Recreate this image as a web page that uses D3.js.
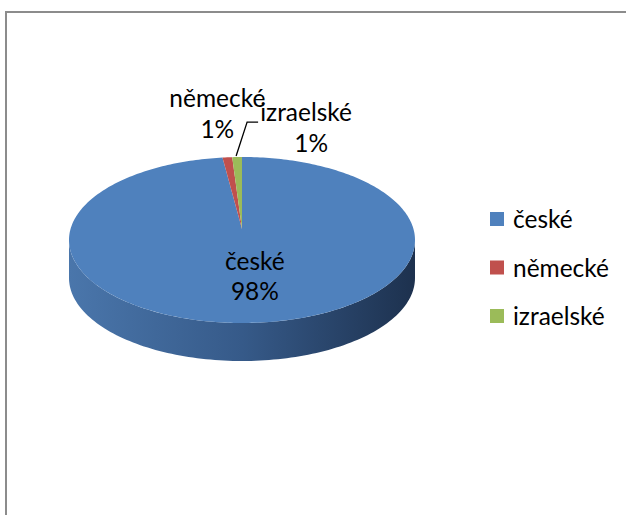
<!DOCTYPE html>
<html>
<head>
<meta charset="utf-8">
<script src="https://cdn.jsdelivr.net/npm/d3@7"></script>
<style>
  html, body { margin: 0; padding: 0; background: #fff; }
  svg { display: block; }
</style>
</head>
<body>
<svg id="chart" width="626" height="515"></svg>
<script>
// ---- data ----
const categories = ["české", "německé", "izraelské"];
const shares = [98.2, 0.9, 0.9];
const colors = ["#4f81bd", "#c0504d", "#9bbb59"];

const svg = d3.select("#chart");
const FONT = "Lato, 'Open Sans', sans-serif";

// fit font size so that the widest legend word matches the reference width
const probe = svg.append("text").attr("font-family", FONT).attr("font-size", 100).text(categories[1]);
const probeW = probe.node().getComputedTextLength();
probe.remove();
const fs = Math.min(28, Math.max(18, 96 / probeW * 100));

// frame
svg.append("rect").attr("x", 6).attr("y", 12).attr("width", 700).attr("height", 600)
  .attr("fill", "#fff").attr("stroke", "#8c8c8c").attr("stroke-width", 2);

// pie geometry
const cx = 242, cy = 240, rx = 173, ry = 83, depth = 38, apexDy = -11;
const pie = d3.pie().sort(null).value(d => d)(shares);
const pt = (a, k = 1, dy = 0) => [cx + rx * k * Math.sin(a), cy - ry * k * Math.cos(a) + dy];

const defs = svg.append("defs");
const grad = defs.append("linearGradient").attr("id", "side").attr("x1", 0).attr("x2", 1).attr("y1", 0).attr("y2", 0);
grad.append("stop").attr("offset", 0).attr("stop-color", "#4a76ab");
grad.append("stop").attr("offset", 0.5).attr("stop-color", "#365a89");
grad.append("stop").attr("offset", 1).attr("stop-color", "#1d314e");

// side (front half, from 3 o'clock to 9 o'clock)
const N = 120;
const sidePts = [];
for (let i = 0; i <= N; i++) sidePts.push(pt(Math.PI / 2 + Math.PI * i / N));
for (let i = N; i >= 0; i--) sidePts.push(pt(Math.PI / 2 + Math.PI * i / N, 1, depth));
svg.append("path").attr("d", d3.line()(sidePts) + "Z").attr("fill", "url(#side)");

// top slices
const apex = [cx, cy + apexDy];
svg.selectAll("path.slice").data(pie).join("path").attr("class", "slice")
  .attr("fill", (d, i) => colors[i])
  .attr("d", d => {
    const n = Math.max(2, Math.ceil((d.endAngle - d.startAngle) / (Math.PI * 2) * 360));
    const p = [apex];
    for (let i = 0; i <= n; i++) p.push(pt(d.startAngle + (d.endAngle - d.startAngle) * i / n));
    return d3.line()(p) + "Z";
  });

const pct = d => Math.round(d.value / d3.sum(shares) * 100) + "%";

// inside label for the big slice
const big = pie[0];
const bigMid = (big.startAngle + big.endAngle) / 2;
const bp = pt(bigMid, 0.5);
const tBig = svg.append("text").attr("font-family", FONT).attr("font-size", fs)
  .attr("text-anchor", "middle").attr("fill", "#000");
tBig.append("tspan").attr("x", bp[0] + 8).attr("y", bp[1] - 11).text(categories[0]);
tBig.append("tspan").attr("x", bp[0] + 8).attr("y", bp[1] + 19).text(pct(big));

// outside labels for the small slices
const outer = [
  { i: 1, dx: -10, dy: -50 },
  { i: 2, dx: 69, dy: -36 }
];
outer.forEach(o => {
  const d = pie[o.i];
  const m = pt((d.startAngle + d.endAngle) / 2);
  const lx = m[0] + o.dx, ly = m[1] + o.dy;
  const t = svg.append("text").attr("font-family", FONT).attr("font-size", fs)
    .attr("text-anchor", "middle").attr("fill", "#000");
  t.append("tspan").attr("x", lx).attr("y", ly).text(categories[o.i]);
  t.append("tspan").attr("x", lx + (o.i === 2 ? 5 : 0)).attr("y", ly + 31).text(pct(d));
});

// leader line for izraelské
{
  const d = pie[2];
  const m = pt((d.startAngle + d.endAngle) / 2);
  svg.append("path").attr("fill", "none").attr("stroke", "#000").attr("stroke-width", 1.3)
    .attr("d", d3.line()([[m[0] - 1, m[1] - 1], [m[0] + 10, m[1] - 35], [m[0] + 21, m[1] - 35]]));
}

// legend
const lg = svg.append("g");
categories.forEach((c, i) => {
  const y = 219 + i * 48.5;
  lg.append("rect").attr("x", 490).attr("y", y - 7).attr("width", 14).attr("height", 14).attr("fill", colors[i]);
  lg.append("text").attr("x", 513).attr("y", y + 9).attr("font-family", FONT).attr("font-size", fs)
    .attr("fill", "#000").text(c);
});
</script>
</body>
</html>
